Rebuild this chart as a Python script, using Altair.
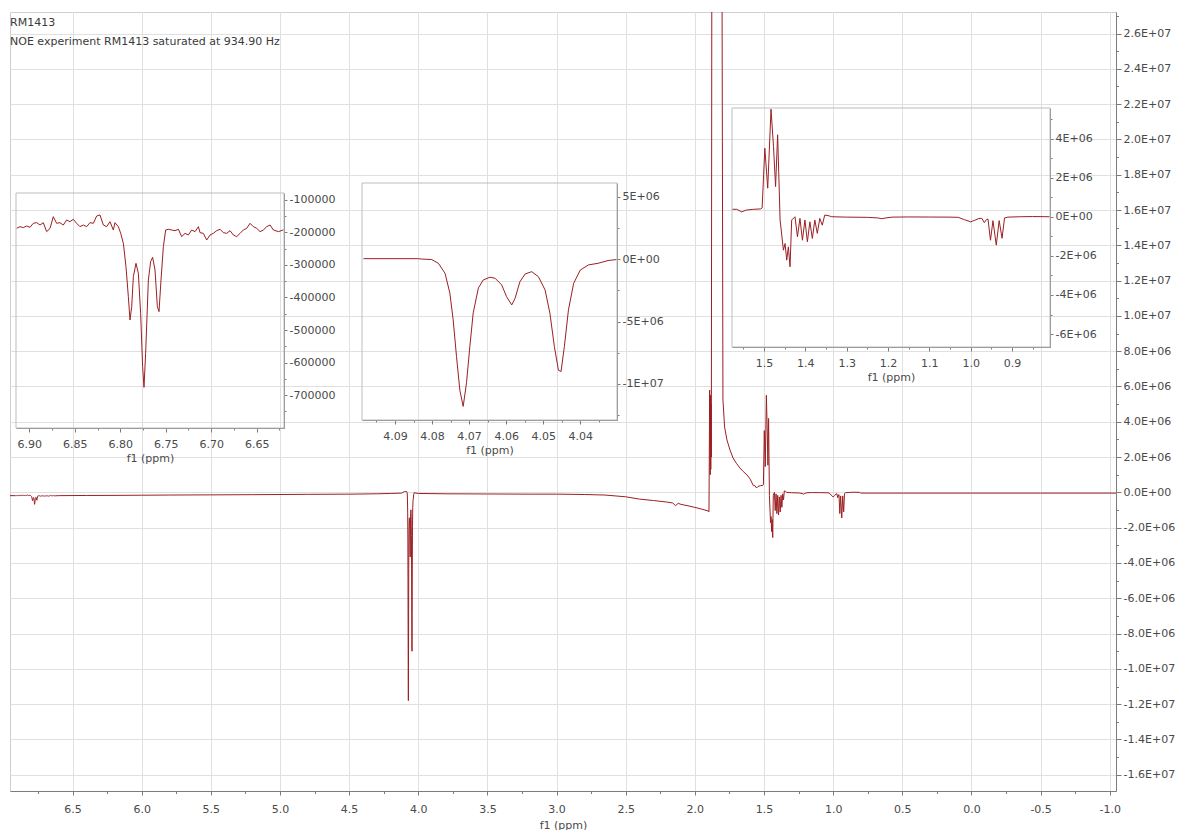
import json
import altair as alt
import pandas as pd

# ---------------- spectrum values (ppm, intensity) ----------------
SEG_AROMATIC_PPM = [6.9520, 6.9300, 6.9139, 6.9102, 6.9066, 6.9029, 6.8992, 6.8956, 6.8919, 6.8882,
                    6.8846, 6.8809, 6.8772, 6.8736, 6.8699, 6.8663, 6.8626, 6.8589, 6.8553, 6.8516,
                    6.8479, 6.8443, 6.8406, 6.8369, 6.8333, 6.8296, 6.8259, 6.8223, 6.8186, 6.8149,
                    6.8113, 6.8076, 6.8058, 6.8021, 6.7995, 6.7966, 6.7937, 6.7911, 6.7893, 6.7874,
                    6.7856, 6.7827, 6.7801, 6.7776, 6.7754, 6.7739, 6.7721, 6.7691, 6.7666, 6.7644,
                    6.7618, 6.7592, 6.7574, 6.7552, 6.7526, 6.7501, 6.7471, 6.7435, 6.7398, 6.7361,
                    6.7325, 6.7288, 6.7251, 6.7215, 6.7178, 6.7141, 6.7123, 6.7087, 6.7050, 6.7013,
                    6.6977, 6.6940, 6.6903, 6.6867, 6.6830, 6.6793, 6.6757, 6.6720, 6.6683, 6.6647,
                    6.6610, 6.6573, 6.6537, 6.6500, 6.6463, 6.6427, 6.6390, 6.6353, 6.6317, 6.6262,
                    6.6205]
SEG_AROMATIC_INT = [-186000, -184000, -187200, -182000, -185100, -180000, -184100, -171800, -169700, -177000,
                    -169700, -197400, -187200, -151300, -171800, -169700, -177000, -161500, -166700, -159500,
                    -171800, -182000, -177000, -182000, -169700, -171800, -149200, -146100, -177000, -182000,
                    -166700, -192300, -169700, -182000, -202600, -233300, -305100, -397400, -469200, -428200,
                    -335900, -294900, -325600, -448700, -612800, -676400, -571800, -346100, -289700, -276400,
                    -315400, -428200, -443600, -346100, -243600, -192300, -190200, -192300, -194400, -190200,
                    -212800, -202600, -207700, -192300, -197400, -182000, -200500, -202600, -223100, -207700,
                    -202600, -194400, -190200, -200500, -202600, -194400, -207700, -212800, -202600, -192300,
                    -187200, -171800, -182000, -187200, -197400, -192300, -182000, -177000, -192300, -197400,
                    -192000]

SEG_BASE_A_PPM = [6.60, 6.40, 6.20, 6.00, 5.80, 5.50, 5.20, 5.00, 4.80, 4.50, 4.30, 4.20, 4.12]
SEG_BASE_A_INT = [-185000, -175000, -170000, -160000, -150000, -140000, -130000, -120000, -110000,
                  -100000, -80000, -60000, -40000]

SEG_OCH2_PPM = [4.0985, 4.0900, 4.0837, 4.0828, 4.0801, 4.0783, 4.0765, 4.0752, 4.0743, 4.0734,
                4.0725, 4.0716, 4.0707, 4.0698, 4.0689, 4.0675, 4.0662, 4.0644, 4.0630, 4.0612,
                4.0599, 4.0585, 4.0576, 4.0563, 4.0549, 4.0531, 4.0513, 4.0495, 4.0482, 4.0470,
                4.0459, 4.0452, 4.0443, 4.0432, 4.0418, 4.0400, 4.0378, 4.0352, 4.0325, 4.0302]
SEG_OCH2_INT = [50000, 50000, 50000, 20000, -20000, -320000, -1120000, -2700000, -4860000, -7800000,
                -10500000, -11800000, -9900000, -7000000, -4300000, -2300000, -1660000, -1440000, -1520000, -2060000,
                -3000000, -3660000, -3130000, -1800000, -1180000, -990000, -1400000, -2460000, -4330000, -7000000,
                -8900000, -9000000, -7000000, -4060000, -1930000, -860000, -450000, -320000, -100000, -20000]

SEG_BASE_B_PPM = [4.00, 3.80, 3.50, 3.20, 3.00, 2.80, 2.65, 2.50, 2.40, 2.30, 2.20, 2.16, 2.14,
                  2.12, 2.10, 2.05, 2.00, 1.95, 1.905]
SEG_BASE_B_INT = [-60000, -80000, -90000, -100000, -100000, -120000, -150000, -250000, -380000,
                  -460000, -550000, -600000, -750000, -620000, -680000, -760000, -850000, -950000, -1050000]

SEG_BIG_PPM = [1.898, 1.893, 1.889, 1.887, 1.885, 1.883, 1.881, 1.876, 1.810, 1.804, 1.797, 1.785,
               1.768, 1.746, 1.724, 1.700, 1.674, 1.650, 1.623, 1.600]
SEG_BIG_INT = [-1100000, 5800000, 1000000, 5500000, 1300000, 5000000, 2000000, 40000000, 40000000,
               30000000, 5230000, 3700000, 2970000, 2400000, 1950000, 1650000, 1380000, 1180000, 990000, 750000]

SEG_ALIPH_PPM = [1.577, 1.566, 1.554, 1.543, 1.525, 1.508, 1.5045, 1.4980, 1.4910, 1.4830, 1.4770, 1.4720,
                 1.4670, 1.4610, 1.4530, 1.4490, 1.4450, 1.4410, 1.4370, 1.4330, 1.4250, 1.4190, 1.4130,
                 1.4070, 1.4010, 1.3950, 1.3890, 1.3830, 1.3770, 1.3710, 1.3650, 1.3590, 1.3530, 1.3450,
                 1.3360, 1.3000, 1.2500, 1.2250, 1.2150, 1.2050, 1.1900, 1.1500, 1.1000, 1.0500, 1.0300,
                 1.0150, 1.0000, 0.9900, 0.9800, 0.9730, 0.9670, 0.9620, 0.9580, 0.9520, 0.9460, 0.9380,
                 0.9310, 0.9240, 0.9180, 0.9100, 0.8800, 0.8500, 0.8085]
SEG_ALIPH_INT = [380000, 380000, 250000, 340000, 380000, 400000, 450000, 3500000, 1460000, 5500000, 3600000,
                 1540000, 4190000, -170000, -1710000, -1370000, -2220000, -1540000, -2560000, -170000, 0,
                 -1030000, -85000, -1200000, -170000, -1280000, -260000, -1110000, -170000, -850000, -85000,
                 -430000, 85000, 60000, 0, -20000, -30000, -60000, -100000, -60000, -20000, -10000, -15000,
                 -20000, -30000, -150000, -260000, -180000, -90000, -80000, -300000, -150000, -120000,
                 -1200000, -200000, -1450000, -200000, -1100000, -60000, -20000, 0, 10000, 0]

SEG_BASE_C_PPM = [0.80, 0.50, 0.00, -0.50, -1.045]
SEG_BASE_C_INT = [-40000, -40000, -40000, -40000, -40000]

# ---------------- axes: tick values and labels ----------------
MAIN_X_TICKS = [6.5, 6.0, 5.5, 5.0, 4.5, 4.0, 3.5, 3.0, 2.5, 2.0, 1.5, 1.0, 0.5, 0.0, -0.5, -1.0]
MAIN_X_LABELS = ["6.5", "6.0", "5.5", "5.0", "4.5", "4.0", "3.5", "3.0", "2.5", "2.0", "1.5", "1.0",
                 "0.5", "0.0", "-0.5", "-1.0"]
MAIN_X_MINOR = [6.75, 6.25, 5.75, 5.25, 4.75, 4.25, 3.75, 3.25, 2.75, 2.25, 1.75, 1.25, 0.75, 0.25,
                -0.25, -0.75]
MAIN_Y_TICKS = [26e6, 24e6, 22e6, 20e6, 18e6, 16e6, 14e6, 12e6, 10e6, 8e6, 6e6, 4e6, 2e6, 0,
                -2e6, -4e6, -6e6, -8e6, -10e6, -12e6, -14e6, -16e6]
MAIN_Y_LABELS = ["2.6E+07", "2.4E+07", "2.2E+07", "2.0E+07", "1.8E+07", "1.6E+07", "1.4E+07", "1.2E+07",
                 "1.0E+07", "8.0E+06", "6.0E+06", "4.0E+06", "2.0E+06", "0.0E+00", "-2.0E+06", "-4.0E+06",
                 "-6.0E+06", "-8.0E+06", "-1.0E+07", "-1.2E+07", "-1.4E+07", "-1.6E+07"]
MAIN_Y_MINOR = [27e6, 25e6, 23e6, 21e6, 19e6, 17e6, 15e6, 13e6, 11e6, 9e6, 7e6, 5e6, 3e6, 1e6,
                -1e6, -3e6, -5e6, -7e6, -9e6, -11e6, -13e6, -15e6]

IN1_X_TICKS = [6.90, 6.85, 6.80, 6.75, 6.70, 6.65]
IN1_X_LABELS = ["6.90", "6.85", "6.80", "6.75", "6.70", "6.65"]
IN1_X_MINOR = [6.875, 6.825, 6.775, 6.725, 6.675, 6.625]
IN1_Y_TICKS = [-100000, -200000, -300000, -400000, -500000, -600000, -700000]
IN1_Y_LABELS = ["-100000", "-200000", "-300000", "-400000", "-500000", "-600000", "-700000"]
IN1_Y_MINOR = [-150000, -250000, -350000, -450000, -550000, -650000, -750000]

IN2_X_TICKS = [4.09, 4.08, 4.07, 4.06, 4.05, 4.04]
IN2_X_LABELS = ["4.09", "4.08", "4.07", "4.06", "4.05", "4.04"]
IN2_X_MINOR = [4.095, 4.085, 4.075, 4.065, 4.055, 4.045, 4.035]
IN2_Y_TICKS = [5e6, 0, -5e6, -10e6]
IN2_Y_LABELS = ["5E+06", "0E+00", "-5E+06", "-1E+07"]
IN2_Y_MINOR = [2.5e6, -2.5e6, -7.5e6, -12.5e6]

IN3_X_TICKS = [1.5, 1.4, 1.3, 1.2, 1.1, 1.0, 0.9]
IN3_X_LABELS = ["1.5", "1.4", "1.3", "1.2", "1.1", "1.0", "0.9"]
IN3_X_MINOR = [1.55, 1.45, 1.35, 1.25, 1.15, 1.05, 0.95, 0.85]
IN3_Y_TICKS = [4e6, 2e6, 0, -2e6, -4e6, -6e6]
IN3_Y_LABELS = ["4E+06", "2E+06", "0E+00", "-2E+06", "-4E+06", "-6E+06"]
IN3_Y_MINOR = [5e6, 3e6, 1e6, -1e6, -3e6, -5e6]

# ---------------- scale domains ----------------
MAIN_PPM_DOMAIN = [6.952, -1.045]
MAIN_INT_DOMAIN = [-1.692e7, 2.722e7]
IN1_PPM_DOMAIN = [6.9146, 6.620]
IN1_INT_DOMAIN = [-801500, -78500]
IN2_PPM_DOMAIN = [4.0989, 4.0301]
IN2_INT_DOMAIN = [-1.289e7, 6.12e6]
IN3_PPM_DOMAIN = [1.5774, 0.808]
IN3_INT_DOMAIN = [-6.66e6, 5.56e6]

# ---------------- layout (pixels inside the plot area) ----------------
W, H = 1106, 779
IN1_BOX = dict(x=[6, 274], y=[416, 181])
IN2_BOX = dict(x=[352, 607], y=[408, 171])
IN3_BOX = dict(x=[722, 1040], y=[335, 96])

LINE_COLOR = "#9c1f22"
FONT = "DejaVu Sans"
AX_COLOR = "#7c7c7c"
LBL_COLOR = "#4a4a4a"

ppm = (SEG_AROMATIC_PPM + SEG_BASE_A_PPM + SEG_OCH2_PPM + SEG_BASE_B_PPM + SEG_BIG_PPM
       + SEG_ALIPH_PPM + SEG_BASE_C_PPM)
inten = (SEG_AROMATIC_INT + SEG_BASE_A_INT + SEG_OCH2_INT + SEG_BASE_B_INT + SEG_BIG_INT
         + SEG_ALIPH_INT + SEG_BASE_C_INT)
spec = pd.DataFrame({"ppm": ppm, "intensity": inten})


def lab_expr(values, labels):
    return f"{json.dumps(labels)}[indexof({json.dumps(values)}, datum.value)]"


def major_axis(orient, values, labels, offset, title=None, grid=False, tick=4, pad=7, tpad=4):
    kw = dict(orient=orient, values=values, labelExpr=lab_expr(values, labels), offset=offset,
              grid=grid, tickSize=tick, labelPadding=pad, labelOverlap=False, labelFlush=False,
              domainColor=AX_COLOR, tickColor=AX_COLOR, labelColor=LBL_COLOR,
              labelFont=FONT, labelFontSize=11, title=title)
    if title:
        kw.update(titleFont=FONT, titleFontSize=11, titleFontWeight="normal",
                  titleColor=LBL_COLOR, titlePadding=tpad)
    if grid:
        kw.update(gridColor="#e0e0e0", gridWidth=1)
    return alt.Axis(**kw)


def minor_axis(orient, values, offset, tick=2.5):
    return alt.Axis(orient=orient, values=values, offset=offset, labels=False, domain=False,
                    grid=False, tickSize=tick, tickColor=AX_COLOR, title=None)


def sc(domain, rng=None):
    if rng is None:
        return alt.Scale(domain=domain, nice=False, zero=False)
    return alt.Scale(domain=domain, range=rng, nice=False, zero=False)


# ---- main spectrum ----
main_line = alt.Chart(spec).mark_line(color=LINE_COLOR, strokeWidth=1, clip=True).encode(
    x=alt.X("ppm:Q", scale=sc(MAIN_PPM_DOMAIN),
            axis=major_axis("bottom", MAIN_X_TICKS, MAIN_X_LABELS, 0, title="f1 (ppm)",
                            grid=True, tick=4, pad=8, tpad=5)),
    y=alt.Y("intensity:Q", scale=sc(MAIN_INT_DOMAIN),
            axis=major_axis("right", MAIN_Y_TICKS, MAIN_Y_LABELS, 0, grid=True, tick=5, pad=2)),
)

main_box = pd.DataFrame({"x1": [MAIN_PPM_DOMAIN[0]], "x2": [MAIN_PPM_DOMAIN[1]],
                         "y1": [MAIN_INT_DOMAIN[0]], "y2": [MAIN_INT_DOMAIN[1]]})
main_minor = alt.Chart(main_box).mark_rect(opacity=0).encode(
    x=alt.X("x1:Q", scale=sc(MAIN_PPM_DOMAIN), axis=minor_axis("bottom", MAIN_X_MINOR, 0)),
    x2="x2:Q",
    y=alt.Y("y1:Q", scale=sc(MAIN_INT_DOMAIN), axis=minor_axis("right", MAIN_Y_MINOR, 0)),
    y2="y2:Q",
)


def inset(ppm_dom, int_dom, box, xt, xl, xm, yt, yl, ym):
    xr, yr = box["x"], box["y"]
    x_off = yr[0] - H
    y_off = xr[1] - W
    line = alt.Chart(spec).transform_filter(
        alt.FieldRangePredicate(field="ppm", range=[ppm_dom[1], ppm_dom[0]])
    ).mark_line(color=LINE_COLOR, strokeWidth=1, clip=True).encode(
        x=alt.X("ppm:Q", scale=sc(ppm_dom, xr),
                axis=major_axis("bottom", xt, xl, x_off, title="f1 (ppm)", tick=4, pad=6, tpad=3)),
        y=alt.Y("intensity:Q", scale=sc(int_dom, yr),
                axis=major_axis("right", yt, yl, y_off, tick=3, pad=2)),
    )
    fr = pd.DataFrame({"x1": [ppm_dom[0]], "x2": [ppm_dom[1]], "y1": [int_dom[0]], "y2": [int_dom[1]]})
    frame = alt.Chart(fr).mark_rect(fillOpacity=0, stroke="#bdbdbd", strokeWidth=1).encode(
        x=alt.X("x1:Q", scale=sc(ppm_dom, xr), axis=minor_axis("bottom", xm, x_off, 2)),
        x2="x2:Q",
        y=alt.Y("y1:Q", scale=sc(int_dom, yr), axis=minor_axis("right", ym, y_off, 2)),
        y2="y2:Q",
    )
    return [line, frame]


layers = [main_line, main_minor]
layers += inset(IN1_PPM_DOMAIN, IN1_INT_DOMAIN, IN1_BOX, IN1_X_TICKS, IN1_X_LABELS, IN1_X_MINOR,
                IN1_Y_TICKS, IN1_Y_LABELS, IN1_Y_MINOR)
layers += inset(IN2_PPM_DOMAIN, IN2_INT_DOMAIN, IN2_BOX, IN2_X_TICKS, IN2_X_LABELS, IN2_X_MINOR,
                IN2_Y_TICKS, IN2_Y_LABELS, IN2_Y_MINOR)
layers += inset(IN3_PPM_DOMAIN, IN3_INT_DOMAIN, IN3_BOX, IN3_X_TICKS, IN3_X_LABELS, IN3_X_MINOR,
                IN3_Y_TICKS, IN3_Y_LABELS, IN3_Y_MINOR)

chart = alt.layer(*layers).resolve_scale(x="independent", y="independent").properties(
    width=W, height=H,
    padding={"left": 2, "top": 4, "right": 0, "bottom": 0},
    title=alt.TitleParams(
        text=["RM1413", "NOE experiment RM1413 saturated at 934.90 Hz"],
        anchor="start", frame="group", orient="top", offset=-35, baseline="top",
        font=FONT, fontSize=11, fontWeight="normal", color="#3a3a3a", lineHeight=19,
    ),
).configure_view(stroke="#cfcfcf", strokeWidth=1)

chart.save("out.html", embed_options={"renderer": "svg", "actions": False})
